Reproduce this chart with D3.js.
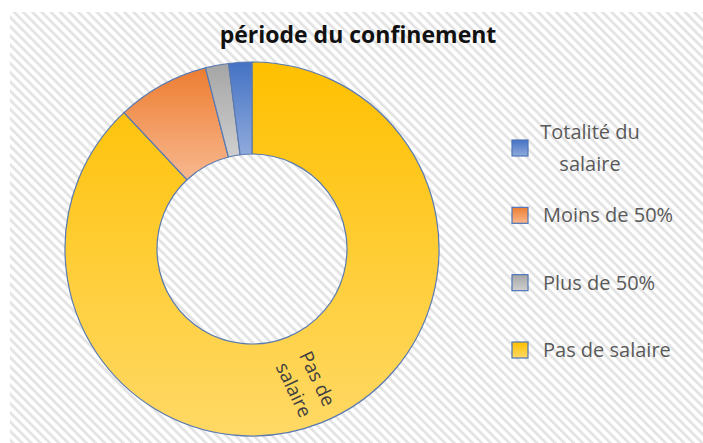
<!DOCTYPE html>
<html>
<head>
<meta charset="utf-8">
<script src="https://cdn.jsdelivr.net/npm/d3@7"></script>
<style>
  body { margin: 0; background: #fff; }
  svg { display: block; }
</style>
</head>
<body>
<div id="chart"></div>
<script>
// --- data (legend order) ---
const categories = ["Totalité du salaire", "Moins de 50%", "Plus de 50%", "Pas de salaire"];
const values = [2, 8, 2, 88];
// clockwise drawing order from 12 o'clock
const drawOrder = ["Pas de salaire", "Moins de 50%", "Plus de 50%", "Totalité du salaire"];
const colorsTop = ["#4472c4", "#ed7d31", "#a5a5a5", "#ffc000"];
const colorsBottom = ["#8faadc", "#f8b88f", "#cfcfcf", "#ffd966"];
const legendLines = [["Totalité du", "salaire"], ["Moins de 50%"], ["Plus de 50%"], ["Pas de salaire"]];
const sliceLabel = { "Pas de salaire": ["Pas de", "salaire"] };

const width = 703, height = 443;
const svg = d3.select("#chart").append("svg")
    .attr("width", width).attr("height", height);

const defs = svg.append("defs");

// hatched chart-area background
const pat = defs.append("pattern")
    .attr("id", "hatch")
    .attr("patternUnits", "userSpaceOnUse")
    .attr("width", 6.5).attr("height", 6.5)
    .attr("patternTransform", "rotate(-45)");
pat.append("rect").attr("width", 6.5).attr("height", 6.5).attr("fill", "#ffffff");
pat.append("rect").attr("width", 2.8).attr("height", 6.5).attr("fill", "#e4e4e4");

categories.forEach((c, i) => {
  const g = defs.append("linearGradient")
      .attr("id", "grad" + i)
      .attr("x1", 0).attr("y1", 0).attr("x2", 0).attr("y2", 1);
  g.append("stop").attr("offset", "0%").attr("stop-color", colorsTop[i]);
  g.append("stop").attr("offset", "100%").attr("stop-color", colorsBottom[i]);
});

svg.append("rect")
    .attr("x", 10).attr("y", 12)
    .attr("width", width - 10).attr("height", height - 12)
    .attr("fill", "url(#hatch)");

// title (only its second line is visible in the crop)
svg.append("text")
    .attr("x", 358).attr("y", 43)
    .attr("text-anchor", "middle")
    .attr("font-family", "Open Sans")
    .attr("font-weight", "bold")
    .attr("font-size", 23)
    .attr("fill", "#111")
    .text("période du confinement");

// --- donut ---
const cx = 252, cy = 249, outerR = 187, innerR = 95;
const color = d3.scaleOrdinal().domain(categories).range(categories.map((c, i) => `url(#grad${i})`));

const pieData = drawOrder.map(name => ({ name, value: values[categories.indexOf(name)] }));
const pie = d3.pie().value(d => d.value).sort(null);
const arc = d3.arc().innerRadius(innerR).outerRadius(outerR);

const g = svg.append("g").attr("transform", `translate(${cx},${cy})`);
const arcs = pie(pieData);

g.selectAll("path.slice")
  .data(arcs)
  .join("path")
    .attr("class", "slice")
    .attr("d", arc)
    .attr("fill", d => color(d.data.name))
    .attr("stroke", "#5a7ab0")
    .attr("stroke-width", 1.2);

// labels inside the slice, rotated along the ring
arcs.filter(d => sliceLabel[d.data.name]).forEach(d => {
  const [lx, ly] = arc.centroid(d);
  const mid = (d.startAngle + d.endAngle) / 2 * 180 / Math.PI;
  const lines = sliceLabel[d.data.name];
  const t = g.append("text")
      .attr("transform", `translate(${lx + 2},${ly + 4}) rotate(${mid - 94})`)
      .attr("text-anchor", "middle")
      .attr("font-family", "Open Sans")
      .attr("font-size", 19)
      .attr("fill", "#404040");
  lines.forEach((ln, k) => {
    t.append("tspan")
      .attr("x", 0)
      .attr("y", (k - (lines.length - 1) / 2) * 26 + 7)
      .text(ln);
  });
});

// --- legend ---
const legendY = d3.scalePoint().domain(categories).range([148, 350]);
const lg = svg.append("g");
categories.forEach((c, i) => {
  const y = legendY(c);
  lg.append("rect")
    .attr("x", 512).attr("y", y - 8)
    .attr("width", 16).attr("height", 16)
    .attr("fill", color(c))
    .attr("stroke", "#4f74b8")
    .attr("stroke-width", 1.2);
  const lines = legendLines[i];
  const multi = lines.length > 1;
  const t = lg.append("text")
      .attr("font-family", "Open Sans")
      .attr("font-size", 20)
      .attr("fill", "#595959")
      .attr("text-anchor", multi ? "middle" : "start");
  lines.forEach((ln, k) => {
    t.append("tspan")
      .attr("x", multi ? 590 : 543)
      .attr("y", y + 7 + (k - (lines.length - 1) / 2) * 32)
      .text(ln);
  });
});
</script>
</body>
</html>
